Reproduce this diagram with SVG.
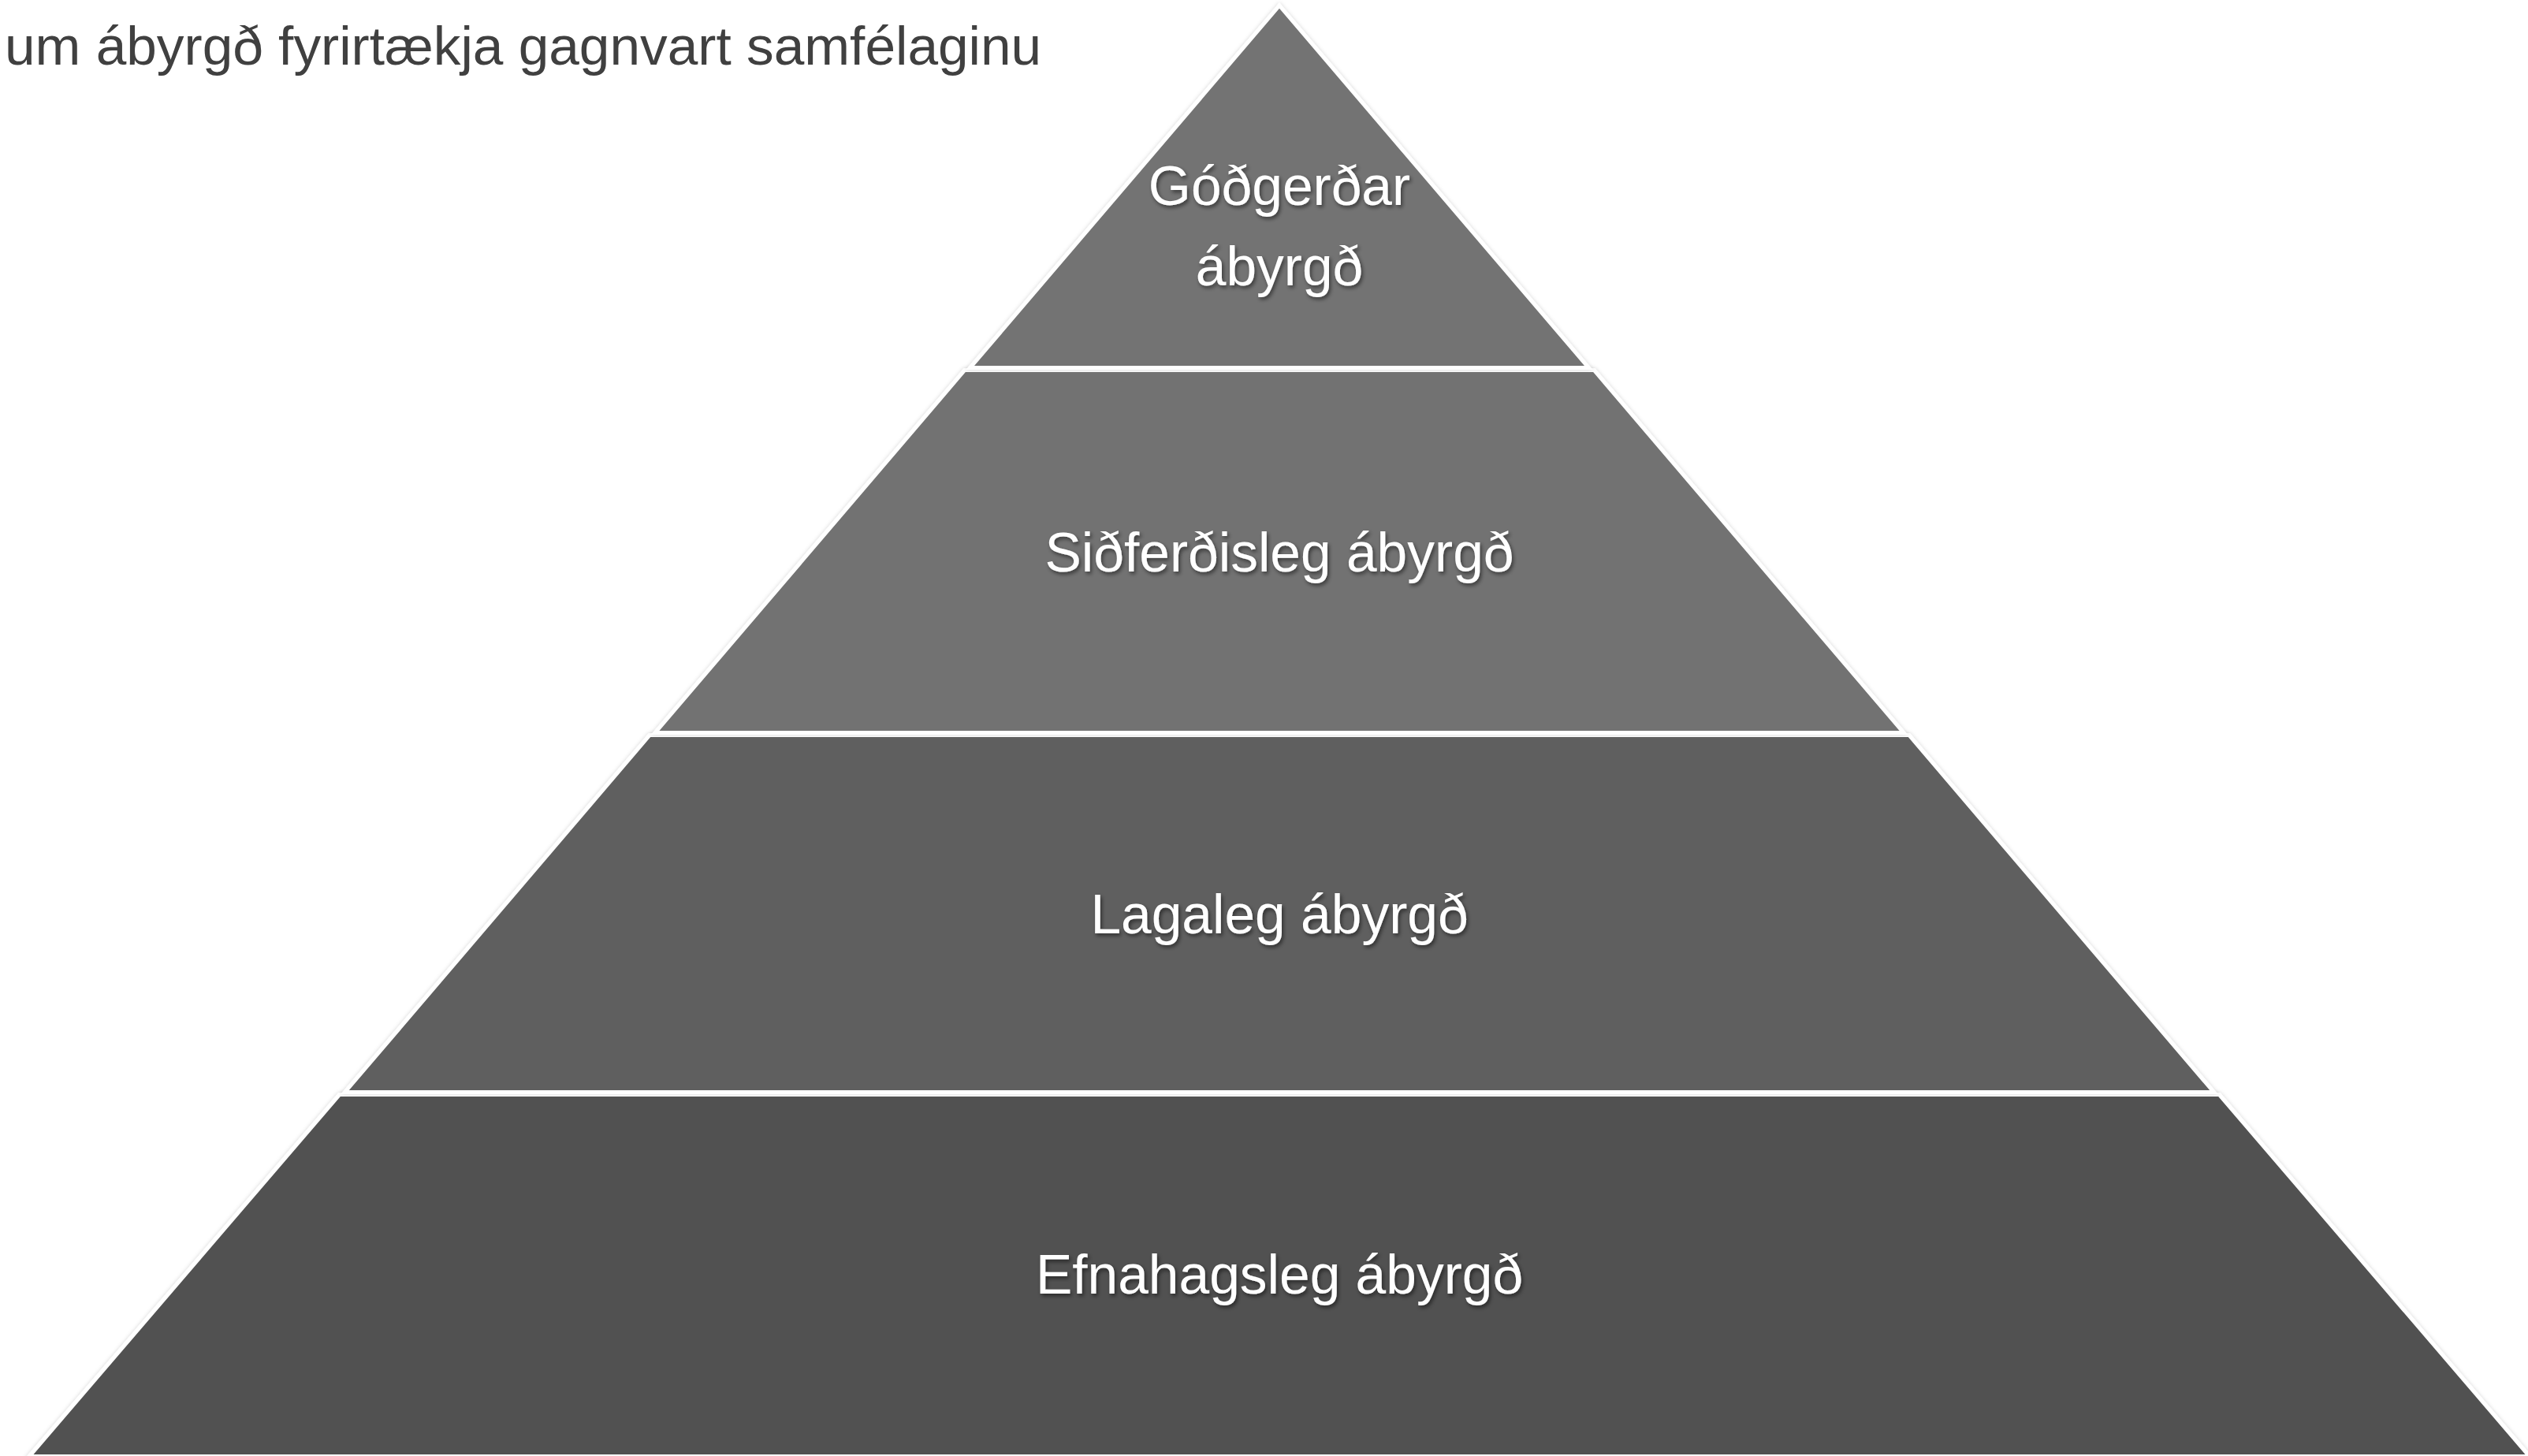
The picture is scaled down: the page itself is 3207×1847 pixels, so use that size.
<svg xmlns="http://www.w3.org/2000/svg" width="3207" height="1847" viewBox="0 0 3207 1847">
<defs>
<filter id="shapeShadow" x="-5%" y="-5%" width="110%" height="110%">
<feDropShadow dx="0" dy="0" stdDeviation="2.5" flood-color="#000" flood-opacity="0.18"/>
</filter>
<filter id="textShadow" x="-10%" y="-30%" width="120%" height="160%">
<feDropShadow dx="2" dy="3" stdDeviation="2.5" flood-color="#000" flood-opacity="0.5"/>
</filter>
</defs>
<style>
.layer { stroke: #ffffff; stroke-width: 5; stroke-linejoin: miter; filter: url(#shapeShadow); }
.lbl { font-family: "Liberation Sans", Arial, sans-serif; font-size: 69.5px; fill: #ffffff; text-anchor: middle; filter: url(#textShadow); }
.title { font-family: "Liberation Sans", Arial, sans-serif; font-size: 69.4px; fill: #404040; }
</style>
<rect x="0" y="0" width="3207" height="1847" fill="#ffffff"/>
<text class="title" x="6" y="82">um ábyrgð fyrirtækja gagnvart samfélaginu</text>
<g id="layer-4">
<polygon class="layer" fill="#515151" points="430.6,1388.5 2815.4,1388.5 3209,1847.5 37,1847.5"/>
<text class="lbl" x="1623" y="1641">Efnahagsleg ábyrgð</text>
</g>
<g id="layer-3">
<polygon class="layer" fill="#5f5f5f" points="824.2,932.5 2421.8,932.5 2808.5,1385.5 437.5,1385.5"/>
<text class="lbl" x="1623" y="1184">Lagaleg ábyrgð</text>
</g>
<g id="layer-2">
<polygon class="layer" fill="#727272" points="1223.8,469.5 2022.2,469.5 2414.9,929.5 831.1,929.5"/>
<text class="lbl" x="1623" y="725">Siðferðisleg ábyrgð</text>
</g>
<g id="layer-1">
<polygon class="layer" fill="#737373" points="1623,7 2015.3,466.5 1230.7,466.5"/>
<text class="lbl" x="1623" y="260">Góðgerðar</text>
<text class="lbl" x="1623" y="362">ábyrgð</text>
</g>
<g id="connectors"/>
</svg>
